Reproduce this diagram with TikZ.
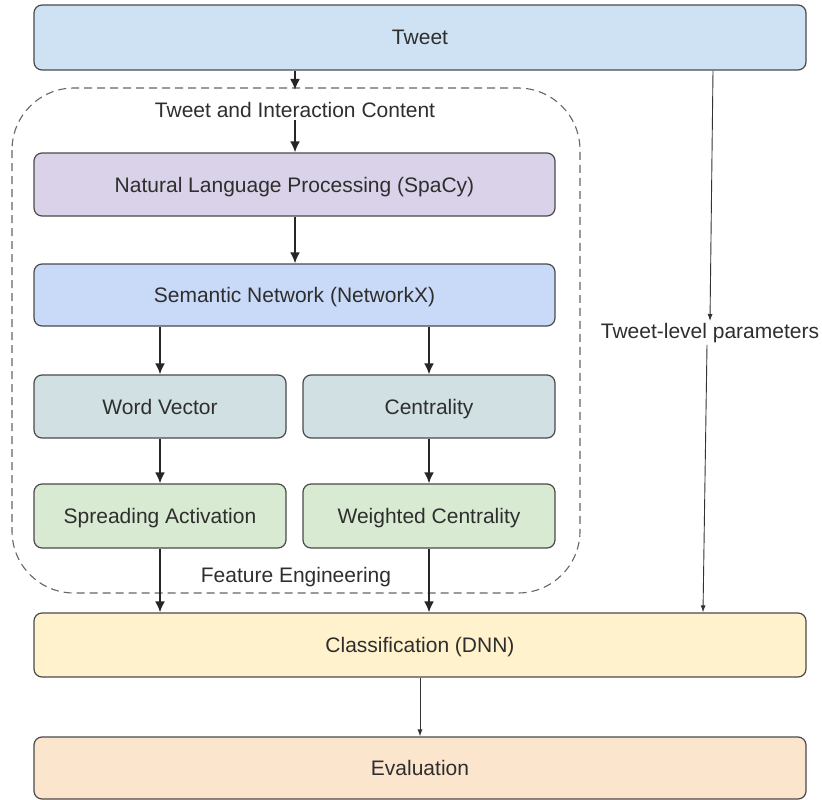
\documentclass[tikz,border=0pt]{standalone}
\usepackage{fontspec}
\setmainfont{Liberation Sans}
\usetikzlibrary{arrows.meta,calc}
\definecolor{tweetc}{HTML}{CFE2F3}
\definecolor{nlpc}{HTML}{D9D2E9}
\definecolor{semc}{HTML}{C9DAF8}
\definecolor{midc}{HTML}{D0E0E3}
\definecolor{lowc}{HTML}{D9EAD3}
\definecolor{clsc}{HTML}{FFF2CC}
\definecolor{evalc}{HTML}{FCE5CD}
\definecolor{edgec}{HTML}{4A4A4A}
\definecolor{txtc}{HTML}{2E2E2E}
\tikzset{
  box/.style={draw=edgec, line width=1.2pt, rounded corners=8pt, inner sep=0pt,
    text=txtc, font=\fontsize{21}{25}\selectfont, text height=15pt, text depth=0pt},
  lbl/.style={inner sep=2pt, text=txtc, font=\fontsize{21}{25}\selectfont},
  thick arrow/.style={line width=2pt, draw=black!85, -{Latex[length=11pt,width=10pt]}},
  thin arrow/.style={line width=0.9pt, draw=black!80, -{Latex[length=7pt,width=5pt]}},
  febox/.style={draw=black!60, line width=1.1pt, dash pattern=on 8pt off 5pt, rounded corners=62pt}
}
\begin{document}
\begin{tikzpicture}[x=1pt,y=-1pt]
\useasboundingbox (0,0) rectangle (822,800);
% feature engineering frame
\draw[febox] (12,88) rectangle (580,593);
% nodes
\node[box, fill=tweetc, minimum width=772pt, minimum height=65pt] (tweet) at (420,37.5) {Tweet};
\node[lbl] (tic) at (295,110) {Tweet and Interaction Content};
\node[box, fill=nlpc, minimum width=521pt, minimum height=63pt] (nlp) at (294.5,184.5) {Natural Language Processing (SpaCy)};
\node[box, fill=semc, minimum width=521pt, minimum height=62pt] (sem) at (294.5,295) {Semantic Network (NetworkX)};
\node[box, fill=midc, minimum width=252pt, minimum height=63pt] (wv) at (160,406.5) {Word Vector};
\node[box, fill=midc, minimum width=252pt, minimum height=63pt] (cen) at (429,406.5) {Centrality};
\node[box, fill=lowc, minimum width=252pt, minimum height=64pt] (sa) at (160,516) {Spreading Activation};
\node[box, fill=lowc, minimum width=252pt, minimum height=64pt] (wc) at (429,516) {Weighted Centrality};
\node[lbl] (fe) at (296,577) {Feature Engineering};
\node[box, fill=clsc, minimum width=772pt, minimum height=64pt] (cls) at (420,645) {Classification (DNN)};
\node[box, fill=evalc, minimum width=772pt, minimum height=62pt] (ev) at (420,768) {Evaluation};
\node[lbl] (tlp) at (710,333) {Tweet-level parameters};
% connectors
\coordinate (fetop) at (295,90);
\draw[thick arrow] (tweet.south -| fetop) -- (fetop);
\draw[thick arrow] (tic.south) -- (nlp.north -| tic.south);
\draw[thick arrow] (nlp.south -| tic.south) -- (sem.north -| tic.south);
\draw[thick arrow] (sem.south -| wv) -- (wv.north);
\draw[thick arrow] (sem.south -| cen) -- (cen.north);
\draw[thick arrow] (wv.south) -- (sa.north);
\draw[thick arrow] (cen.south) -- (wc.north);
\draw[thick arrow] (sa.south) -- (cls.north -| sa.south);
\draw[thick arrow] (wc.south) -- (cls.north -| wc.south);
\draw[thin arrow] ([xshift=3pt]tweet.south -| tlp.north) -- (tlp.north);
\draw[thin arrow] ([xshift=-3pt]tlp.south) -- ([xshift=-7pt]cls.north -| tlp.south);
\draw[thin arrow] (cls.south) -- (ev.north);
\end{tikzpicture}
\end{document}
